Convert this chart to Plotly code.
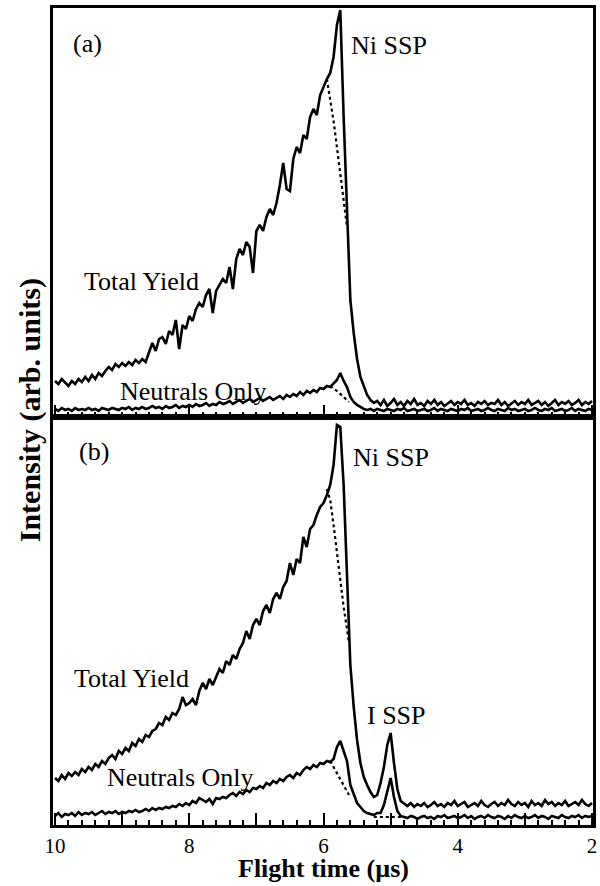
import plotly.graph_objects as go

# Flight time grid (µs), one value per channel
time_us = [
    10.00, 9.95, 9.90, 9.85, 9.80, 9.75, 9.70, 9.65, 9.60, 9.55,
    9.50, 9.45, 9.40, 9.35, 9.30, 9.25, 9.20, 9.15, 9.10, 9.05,
    9.00, 8.95, 8.90, 8.85, 8.80, 8.75, 8.70, 8.65, 8.60, 8.55,
    8.50, 8.45, 8.40, 8.35, 8.30, 8.25, 8.20, 8.15, 8.10, 8.05,
    8.00, 7.95, 7.90, 7.85, 7.80, 7.75, 7.70, 7.65, 7.60, 7.55,
    7.50, 7.45, 7.40, 7.35, 7.30, 7.25, 7.20, 7.15, 7.10, 7.05,
    7.00, 6.95, 6.90, 6.85, 6.80, 6.75, 6.70, 6.65, 6.60, 6.55,
    6.50, 6.45, 6.40, 6.35, 6.30, 6.25, 6.20, 6.15, 6.10, 6.05,
    6.00, 5.95, 5.90, 5.85, 5.80, 5.75, 5.70, 5.65, 5.60, 5.55,
    5.50, 5.45, 5.40, 5.35, 5.30, 5.25, 5.20, 5.15, 5.10, 5.05,
    5.00, 4.95, 4.90, 4.85, 4.80, 4.75, 4.70, 4.65, 4.60, 4.55,
    4.50, 4.45, 4.40, 4.35, 4.30, 4.25, 4.20, 4.15, 4.10, 4.05,
    4.00, 3.95, 3.90, 3.85, 3.80, 3.75, 3.70, 3.65, 3.60, 3.55,
    3.50, 3.45, 3.40, 3.35, 3.30, 3.25, 3.20, 3.15, 3.10, 3.05,
    3.00, 2.95, 2.90, 2.85, 2.80, 2.75, 2.70, 2.65, 2.60, 2.55,
    2.50, 2.45, 2.40, 2.35, 2.30, 2.25, 2.20, 2.15, 2.10, 2.05,
    2.00,
]

# Panel (a): total yield
total_a = [
    36, 33, 38, 34, 31, 36, 33, 38, 35, 40,
    36, 42, 38, 44, 41, 46, 50, 47, 53, 50,
    54, 51, 55, 52, 57, 54, 58, 55, 64, 74,
    66, 78, 80, 73, 86, 82, 97, 68, 92, 88,
    101, 96, 108, 114, 110, 122, 128, 104, 126, 132,
    138, 134, 150, 128, 158, 168, 162, 175, 170, 144,
    186, 192, 186, 200, 208, 202, 214, 232, 254, 228,
    226, 258, 270, 264, 282, 278, 300, 308, 302, 322,
    330, 338, 344, 360, 392, 407, 300, 205, 117, 84,
    58, 40, 30, 22, 17, 14, 16, 12, 17, 11,
    14, 18, 12, 15, 11, 16, 13, 18, 12, 14,
    11, 16, 13, 17, 12, 15, 11, 14, 16, 12,
    15, 13, 17, 12, 14, 11, 15, 13, 16, 12,
    14, 13, 17, 12, 15, 11, 14, 16, 12, 15,
    13, 17, 12, 14, 16, 12, 15, 11, 14, 17,
    12, 15, 13, 16, 12, 14, 17, 12, 15, 13,
    16,
]

# Panel (a): neutrals only
neutral_a = [
    8, 6, 9, 7, 8, 6, 9, 7, 8, 7,
    9, 7, 8, 6, 9, 8, 7, 9, 8, 7,
    9, 8, 10, 7, 9, 8, 10, 8, 9, 11,
    9, 10, 8, 11, 9, 10, 12, 9, 11, 10,
    12, 10, 13, 11, 12, 14, 11, 13, 12, 15,
    13, 14, 16, 13, 15, 17, 14, 16, 18, 15,
    17, 19, 16, 18, 20, 17, 19, 21, 18, 22,
    20, 23, 21, 25, 22, 26, 24, 27, 25, 29,
    28, 31, 30, 34, 37, 44, 36, 30, 20, 15,
    12, 10, 8, 7, 8, 6, 8, 7, 6, 8,
    7, 6, 8, 7, 9, 6, 7, 8, 6, 7,
    8, 6, 7, 9, 6, 8, 7, 6, 8, 7,
    6, 8, 7, 9, 6, 7, 8, 6, 7, 9,
    7, 6, 8, 7, 6, 9, 7, 8, 6, 7,
    8, 6, 7, 9, 7, 6, 8, 7, 9, 6,
    7, 8, 6, 7, 9, 6, 8, 7, 6, 8,
    7,
]

# Panel (b): total yield
total_b = [
    47, 44, 50, 46, 52, 49, 53, 50, 56, 53,
    58, 55, 61, 58, 64, 61, 67, 70, 66, 74,
    71, 77, 74, 82, 79, 86, 83, 90, 88, 94,
    96, 102, 100, 108, 105, 112, 110, 116, 128, 120,
    122, 126, 120, 134, 142, 136, 146, 140, 148, 156,
    152, 164, 160, 170, 166, 176, 182, 194, 186, 200,
    206, 200, 214, 220, 212, 226, 232, 226, 238, 244,
    262, 250, 266, 262, 288, 278, 296, 300, 310, 318,
    322, 330, 340, 360, 400, 398, 340, 240, 160, 118,
    85, 62, 48, 40, 33, 28, 30, 42, 58, 80,
    92, 62, 36, 24, 21, 19, 22, 18, 21, 19,
    22, 18, 20, 23, 19, 21, 18, 22, 20, 24,
    19, 21, 23, 18, 20, 22, 19, 24, 20, 18,
    21, 23, 19, 22, 20, 25, 21, 19, 23, 20,
    22, 18, 24, 20, 22, 19, 25, 21, 23, 19,
    22, 20, 24, 19, 21, 23, 20, 25, 21, 19,
    22,
]

# Panel (b): neutrals only
neutral_b = [
    9, 12, 8, 11, 10, 12, 9, 13, 10, 12,
    11, 13, 10, 12, 14, 11, 13, 12, 14, 11,
    13, 12, 14, 13, 15, 13, 14, 16, 14, 17,
    15, 17, 16, 18, 17, 19, 18, 21, 19, 22,
    20, 24, 22, 27, 25, 23, 26, 21, 27, 26,
    28, 27, 30, 32, 29, 33, 31, 35, 33, 37,
    36, 39, 37, 42, 40, 44, 42, 46, 44, 48,
    50, 47, 52, 50, 55, 58, 56, 60, 58, 62,
    61, 64, 63, 66, 78, 84, 74, 64, 40, 30,
    22, 18, 14, 12, 11, 10, 12, 12, 20, 34,
    47, 28, 14, 9, 8, 7, 9, 8, 6, 8,
    9, 7, 8, 6, 9, 8, 10, 7, 8, 9,
    7, 8, 10, 7, 9, 6, 8, 9, 7, 10,
    8, 7, 9, 8, 6, 9, 7, 10, 8, 7,
    9, 7, 8, 10, 7, 9, 8, 6, 9, 8,
    7, 10, 8, 7, 9, 8, 10, 7, 9, 8,
    9,
]

# Dotted background estimates under the peaks
fit_total_a_t = [5.95, 5.90, 5.85, 5.80, 5.75, 5.70, 5.65]
fit_total_a = [338, 318, 296, 270, 242, 214, 190]
fit_neutral_a_t = [5.90, 5.80, 5.70, 5.62]
fit_neutral_a = [31, 26, 20, 15]

fit_total_b_t = [5.95, 5.90, 5.85, 5.80, 5.75, 5.70, 5.65, 5.62]
fit_total_b = [336, 325, 300, 272, 242, 218, 196, 182]
fit_neutral_b_t = [5.90, 5.80, 5.70, 5.62]
fit_neutral_b = [64, 52, 40, 30]
fit_base_b_t = [5.25, 4.78]
fit_base_b = [8, 8]

# x tick labels
tick_vals = [10, 9, 8, 7, 6, 5, 4, 3, 2]
tick_text = ["10", "", "8", "", "6", "", "4", "", "2"]

FONT = "Liberation Serif"
SOLID = dict(color="black", width=2.6)
DOT = dict(color="black", width=2.2, dash="dot")

fig = go.Figure()
fig.add_trace(go.Scatter(x=time_us, y=total_a, mode="lines", line=SOLID, xaxis="x", yaxis="y"))
fig.add_trace(go.Scatter(x=time_us, y=neutral_a, mode="lines", line=SOLID, xaxis="x", yaxis="y"))
fig.add_trace(go.Scatter(x=fit_total_a_t, y=fit_total_a, mode="lines", line=DOT, xaxis="x", yaxis="y"))
fig.add_trace(go.Scatter(x=fit_neutral_a_t, y=fit_neutral_a, mode="lines", line=DOT, xaxis="x", yaxis="y"))

fig.add_trace(go.Scatter(x=time_us, y=total_b, mode="lines", line=SOLID, xaxis="x2", yaxis="y2"))
fig.add_trace(go.Scatter(x=time_us, y=neutral_b, mode="lines", line=SOLID, xaxis="x2", yaxis="y2"))
fig.add_trace(go.Scatter(x=fit_total_b_t, y=fit_total_b, mode="lines", line=DOT, xaxis="x2", yaxis="y2"))
fig.add_trace(go.Scatter(x=fit_neutral_b_t, y=fit_neutral_b, mode="lines", line=DOT, xaxis="x2", yaxis="y2"))
fig.add_trace(go.Scatter(x=fit_base_b_t, y=fit_base_b, mode="lines", line=DOT, xaxis="x2", yaxis="y2"))

xcommon = dict(
    range=[10.03, 1.985], showgrid=False, zeroline=False,
    showline=True, linecolor="black", linewidth=2.5, mirror=True,
    ticks="inside", ticklen=12, tickwidth=1.6, tickcolor="black",
    tickvals=tick_vals, ticktext=tick_text,
    minor=dict(dtick=0.2, tick0=2, ticks="inside", ticklen=5, tickwidth=1.6, tickcolor="black", showgrid=False),
    tickfont=dict(family=FONT, size=21, color="black"),
)
ycommon = dict(
    showgrid=False, zeroline=False, showticklabels=False, ticks="",
    showline=True, linecolor="black", linewidth=2.5, mirror=True,
)

split = 0.4994
fig.update_layout(
    width=600, height=886,
    margin=dict(l=53, r=4, t=8, b=61),
    paper_bgcolor="white", plot_bgcolor="white",
    showlegend=False,
    font=dict(family=FONT, color="black"),
    xaxis=dict(anchor="y", showticklabels=False, **xcommon),
    yaxis=dict(domain=[split, 1.0], range=[0, 409], anchor="x", **ycommon),
    xaxis2=dict(anchor="y2", showticklabels=True, **xcommon),
    yaxis2=dict(domain=[0.0, split], range=[0, 408], anchor="x2", **ycommon),
)

LBL = dict(family=FONT, size=26, color="black")
ann = [
    dict(text="(a)", x=9.51, y=374, xref="x", yref="y"),
    dict(text="Ni SSP", x=5.02, y=372, xref="x", yref="y"),
    dict(text="Total Yield", x=8.71, y=135, xref="x", yref="y"),
    dict(text="Neutrals Only", x=7.94, y=25, xref="x", yref="y"),
    dict(text="(b)", x=9.42, y=373, xref="x2", yref="y2"),
    dict(text="Ni SSP", x=4.99, y=367, xref="x2", yref="y2"),
    dict(text="Total Yield", x=8.86, y=147, xref="x2", yref="y2"),
    dict(text="Neutrals Only", x=8.13, y=48, xref="x2", yref="y2"),
    dict(text="I SSP", x=4.92, y=110, xref="x2", yref="y2"),
]
for a in ann:
    fig.add_annotation(showarrow=False, font=LBL, xanchor="center", yanchor="middle", **a)

fig.add_annotation(text="<b>Intensity (arb. units)</b>", textangle=-90, showarrow=False,
                   x=-0.042, y=0.508, xref="paper", yref="paper",
                   xanchor="center", yanchor="middle",
                   font=dict(family=FONT, size=30, color="black"))
fig.add_annotation(text="<b>Flight time (µs)</b>", showarrow=False,
                   x=(325 - 53) / 543, y=(825 - 885) / 817, xref="paper", yref="paper",
                   xanchor="center", yanchor="bottom",
                   font=dict(family=FONT, size=26, color="black"))

# remove the browser's default page margin so the 600x886 figure fills the window
fig.write_html("out.html",
               config={"displayModeBar": False},
               post_script="document.body.style.margin='0';document.body.style.overflow='hidden';")
